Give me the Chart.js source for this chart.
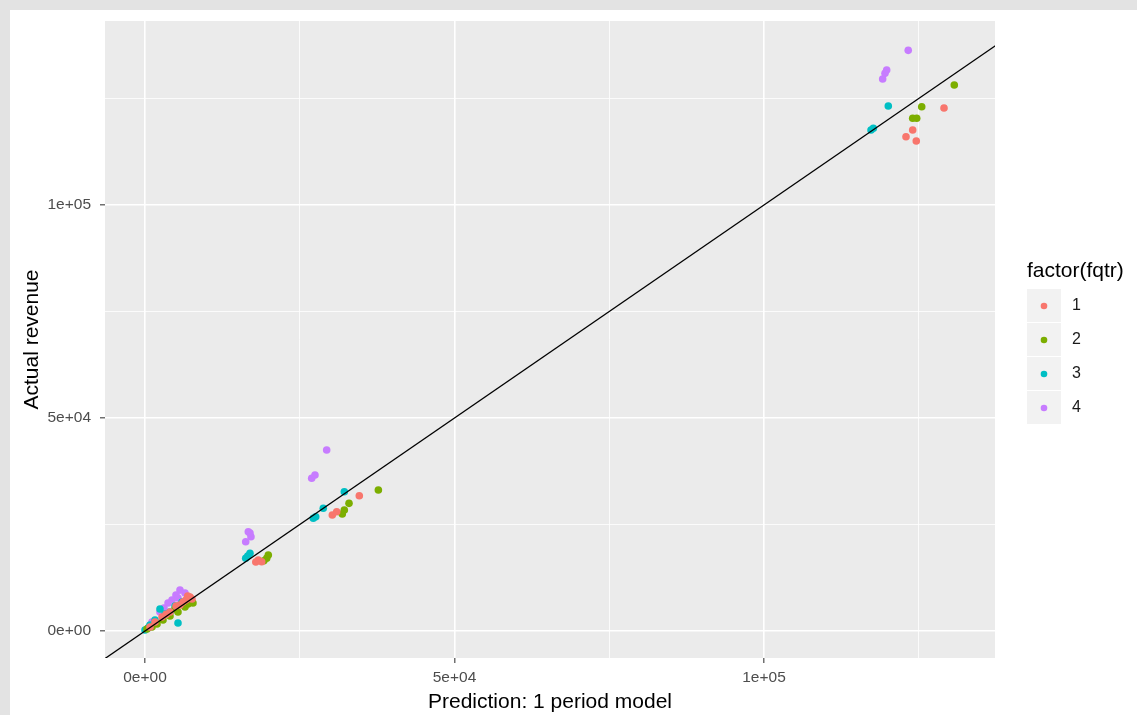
<!DOCTYPE html>
<html>
<head>
<meta charset="utf-8">
<script src="https://cdn.jsdelivr.net/npm/chart.js@4"></script>
<style>
  html, body { margin: 0; padding: 0; background: #fff; }
  canvas { display: block; }
</style>
</head>
<body>
<canvas id="chart" width="1137" height="715"></canvas>
<script>
// fqtr groups and their colours
const groups = ['1', '2', '3', '4'];
const groupColors = ['#F8766D', '#7CAE00', '#00BFC4', '#C77CFF'];

// predicted (x) and actual (y) revenue for each quarter group
const pred1 = [7270, 6620, 5650, 4040, 2750, 1615, 810, 6140, 5010, 7590, 3400, 6900, 18300, 18850, 17900, 34620, 30260, 30970, 129080, 124020, 122940, 124600];
const actual1 = [7980, 7280, 6100, 4460, 3290, 2110, 940, 6810, 5870, 7510, 3900, 8200, 16670, 16270, 16200, 31760, 27230, 28000, 122770, 117600, 116030, 115020];

const pred2 = [7750, 6950, 5330, 4040, 2910, 1940, 1130, 320, 6460, 4850, 19920, 19660, 19200, 37700, 32960, 32200, 31870, 130740, 125480, 124020, 124670];
const actual2 = [6570, 6340, 4460, 3520, 2580, 1640, 940, 470, 5630, 5160, 17840, 17060, 16500, 33100, 29970, 28400, 27460, 128170, 123080, 120350, 120350];

const pred3 = [2420, 5330, 4040, 0, 480, 1615, 3230, 4850, 5980, 810, 16960, 16270, 16600, 32200, 28800, 27190, 27580, 120080, 117660, 117290];
const actual3 = [5160, 1880, 4460, 235, 700, 2580, 3990, 5870, 6810, 1410, 18240, 17060, 17600, 32700, 28800, 26450, 26830, 123240, 118000, 117600];

const pred4 = [5650, 5000, 4360, 3720, 6460, 2420, 1130, 3070, 5330, 6950, 16690, 17120, 16270, 16960, 29350, 26930, 27460, 123300, 119820, 119550, 119170];
const actual4 = [9600, 8450, 7280, 6570, 8920, 4460, 2110, 5400, 7750, 7980, 23300, 22130, 20960, 23000, 42490, 35840, 36620, 136300, 131690, 130900, 129570];

// y = x reference line
const lineX = [-10000, 145000];

// axis ticks (major labelled, minor unlabelled)
const tickVals = [0, 25000, 50000, 75000, 100000, 125000];
const tickLabels = ['0e+00', '', '5e+04', '', '1e+05', ''];

const preds = [pred1, pred2, pred3, pred4];
const actuals = [actual1, actual2, actual3, actual4];

const FONT = "'Liberation Sans', Arial, sans-serif";

const datasets = [{
  type: 'line',
  label: 'abline',
  data: lineX.map(v => ({ x: v, y: v })),
  borderColor: '#000000',
  borderWidth: 1.3,
  pointRadius: 0,
  fill: false,
  order: 0
}];
groups.forEach((g, i) => {
  datasets.push({
    type: 'scatter',
    label: g,
    data: preds[i].map((x, j) => ({ x: x, y: actuals[i][j] })),
    backgroundColor: groupColors[i],
    borderWidth: 0,
    pointRadius: 3.8,
    pointHoverRadius: 3.8,
    order: i + 1
  });
});

const isMajor = (v) => tickLabels[tickVals.indexOf(v)] !== '';

const gridOpts = {
  color: '#FFFFFF',
  lineWidth: (ctx) => ctx.tick && isMajor(ctx.tick.value) ? 1.6 : 0.8,
  tickColor: (ctx) => ctx.tick && isMajor(ctx.tick.value) ? '#4D4D4D' : 'rgba(0,0,0,0)',
  tickLength: 5,
  tickWidth: 1.2
};

const backgroundPlugin = {
  id: 'ggBackground',
  beforeDraw(chart) {
    const ctx = chart.ctx;
    const a = chart.chartArea;
    ctx.save();
    ctx.fillStyle = '#E3E3E3';
    ctx.fillRect(0, 0, chart.width, chart.height);
    ctx.fillStyle = '#FFFFFF';
    ctx.fillRect(10, 10, chart.width - 10, chart.height - 10);
    ctx.fillStyle = '#EBEBEB';
    ctx.fillRect(a.left, a.top, a.right - a.left, a.bottom - a.top);
    ctx.restore();
  }
};

const legendPlugin = {
  id: 'ggLegend',
  afterDraw(chart) {
    const ctx = chart.ctx;
    ctx.save();
    ctx.fillStyle = '#000000';
    ctx.font = '21px ' + FONT;
    ctx.textAlign = 'left';
    ctx.textBaseline = 'middle';
    ctx.fillText('factor(fqtr)', 1027, 271);
    const keyTop = 289, keySize = 34, keyLeft = 1027;
    chart.data.datasets.filter(d => d.type === 'scatter').forEach((d, i) => {
      const y = keyTop + i * keySize;
      ctx.fillStyle = '#F2F2F2';
      ctx.fillRect(keyLeft, y, keySize, keySize - 1);
      ctx.beginPath();
      ctx.arc(keyLeft + keySize / 2, y + keySize / 2, 3.3, 0, Math.PI * 2);
      ctx.fillStyle = d.backgroundColor;
      ctx.fill();
      ctx.fillStyle = '#1A1A1A';
      ctx.font = '16px ' + FONT;
      ctx.fillText(d.label, 1072, y + keySize / 2);
    });
    ctx.restore();
  }
};

new Chart(document.getElementById('chart'), {
  data: { datasets: datasets },
  options: {
    responsive: false,
    animation: false,
    devicePixelRatio: 1,
    layout: { padding: { left: 0, right: 142, top: 21, bottom: 0 } },
    plugins: {
      legend: { display: false },
      tooltip: { enabled: false }
    },
    scales: {
      x: {
        type: 'linear',
        min: -6462,
        max: 137318,
        border: { display: false },
        grid: gridOpts,
        afterBuildTicks: (scale) => { scale.ticks = tickVals.map(v => ({ value: v })); },
        afterFit: (scale) => { scale.height = 57; },
        ticks: {
          autoSkip: false,
          maxRotation: 0,
          padding: 5,
          color: '#4D4D4D',
          font: { family: FONT, size: 15.5 },
          callback: (v) => tickLabels[tickVals.indexOf(v)]
        },
        title: {
          display: true,
          text: 'Prediction: 1 period model',
          color: '#000000',
          font: { family: FONT, size: 21 },
          padding: { top: 0, bottom: 0 }
        }
      },
      y: {
        type: 'linear',
        min: -6338,
        max: 143192,
        border: { display: false },
        grid: gridOpts,
        afterBuildTicks: (scale) => { scale.ticks = tickVals.map(v => ({ value: v })); },
        afterFit: (scale) => { scale.width = 105; },
        ticks: {
          autoSkip: false,
          padding: 9,
          color: '#4D4D4D',
          font: { family: FONT, size: 15.5 },
          callback: (v) => tickLabels[tickVals.indexOf(v)]
        },
        title: {
          display: true,
          text: 'Actual revenue',
          color: '#000000',
          font: { family: FONT, size: 21 },
          padding: { top: 20, bottom: 0 }
        }
      }
    }
  },
  plugins: [backgroundPlugin, legendPlugin]
});
</script>
</body>
</html>
